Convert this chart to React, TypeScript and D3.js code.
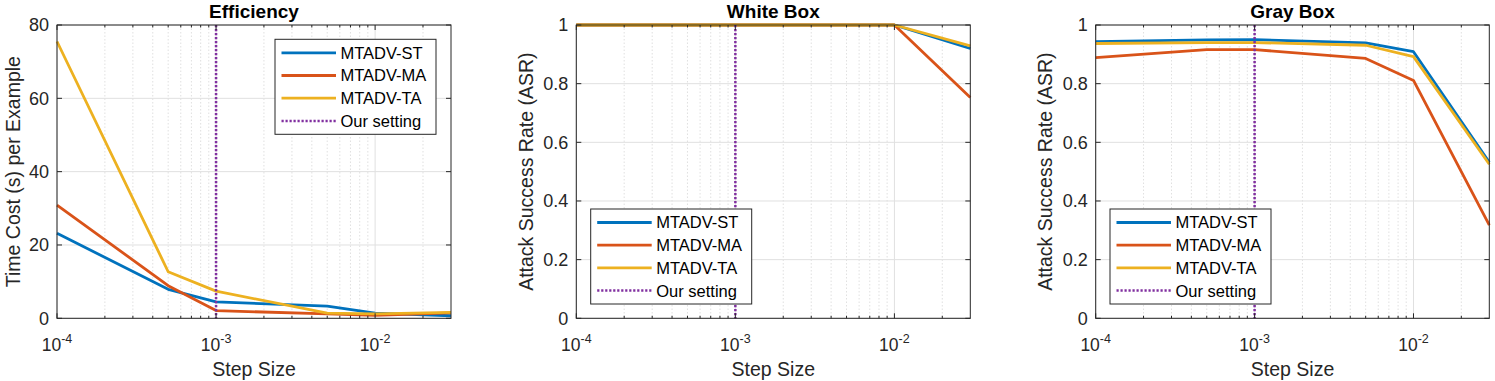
import React from "react";
import * as d3 from "d3";

// step sizes on x (log scale)
const stepSizes = [1e-4, 5e-4, 1e-3, 5e-3, 1e-2, 3e-2];
const ourSetting = 1e-3;
const seriesNames = ["MTADV-ST", "MTADV-MA", "MTADV-TA"];
const seriesColors = ["#0072BD", "#D95319", "#EDB120"];

// Efficiency: time cost (s) per example
const effST = [23.2, 7.9, 4.5, 3.3, 1.4, 0.7];
const effMA = [30.9, 8.9, 2.1, 1.2, 0.8, 1.5];
const effTA = [75.5, 12.7, 7.4, 1.4, 1.2, 1.6];

// White box ASR
const whiteST = [1, 1, 1, 1, 1, 0.92];
const whiteMA = [1, 1, 1, 1, 1, 0.753];
const whiteTA = [1, 1, 1, 1, 1, 0.929];

// Gray box ASR
const grayST = [0.943, 0.949, 0.95, 0.939, 0.909, 0.532];
const grayMA = [0.889, 0.916, 0.916, 0.886, 0.811, 0.318];
const grayTA = [0.937, 0.94, 0.94, 0.931, 0.892, 0.525];

const effTicks = [0, 20, 40, 60, 80];
const asrTicks = [0, 0.2, 0.4, 0.6, 0.8, 1];
const xTicks = [1e-4, 1e-3, 1e-2];

const FONT = "'Liberation Sans', Arial, Helvetica, sans-serif";

type PanelProps = {
  left: number;
  right: number;
  title: string;
  ylabel: string;
  ylabelX: number;
  yMax: number;
  yTicks: number[];
  series: number[][];
  legendX: number;
  legendY: number;
};

const top = 25;
const bottom = 318.3;
const purple = "#8130A0";

function Panel(p: PanelProps) {
  const x = d3.scaleLog().domain([1e-4, 3e-2]).range([p.left, p.right]);
  const y = d3.scaleLinear().domain([0, p.yMax]).range([bottom, top]);
  const line = d3
    .line<number>()
    .x((_, i) => x(stepSizes[i]))
    .y((d) => y(d));

  const minor: number[] = [];
  for (const dec of [1e-4, 1e-3, 1e-2]) {
    for (let k = 2; k <= 9; k++) {
      const v = k * dec;
      if (v < 3e-2) minor.push(v);
    }
  }
  const axisColor = "#262626";

  return (
    <g>
      {/* minor grid */}
      {minor.map((v) => (
        <line key={"mg" + v} x1={x(v)} x2={x(v)} y1={top} y2={bottom} stroke="#d8d8d8" strokeWidth={0.8} strokeDasharray="1.5,2" />
      ))}
      {/* major grid */}
      {xTicks.map((v) => (
        <line key={"xg" + v} x1={x(v)} x2={x(v)} y1={top} y2={bottom} stroke="#e0e0e0" strokeWidth={1} />
      ))}
      {p.yTicks.map((v) => (
        <line key={"yg" + v} x1={p.left} x2={p.right} y1={y(v)} y2={y(v)} stroke="#e0e0e0" strokeWidth={1} />
      ))}
      {/* series */}
      {p.series.map((s, i) => (
        <path key={"s" + i} d={line(s) || ""} fill="none" stroke={seriesColors[i]} strokeWidth={2.8} strokeLinejoin="round" />
      ))}
      {/* our setting */}
      <line x1={x(ourSetting)} x2={x(ourSetting)} y1={top} y2={bottom} stroke={purple} strokeWidth={2.5} strokeDasharray="2.2,1.8" />
      {/* axes box */}
      <rect x={p.left} y={top} width={p.right - p.left} height={bottom - top} fill="none" stroke={axisColor} strokeWidth={1} />
      {/* ticks */}
      {xTicks.map((v) => (
        <g key={"xt" + v}>
          <line x1={x(v)} x2={x(v)} y1={bottom} y2={bottom - 5} stroke={axisColor} />
          <line x1={x(v)} x2={x(v)} y1={top} y2={top + 5} stroke={axisColor} />
        </g>
      ))}
      {minor.map((v) => (
        <g key={"mt" + v}>
          <line x1={x(v)} x2={x(v)} y1={bottom} y2={bottom - 2.5} stroke={axisColor} />
          <line x1={x(v)} x2={x(v)} y1={top} y2={top + 2.5} stroke={axisColor} />
        </g>
      ))}
      {p.yTicks.map((v) => (
        <g key={"yt" + v}>
          <line x1={p.left} x2={p.left + 5} y1={y(v)} y2={y(v)} stroke={axisColor} />
          <line x1={p.right} x2={p.right - 5} y1={y(v)} y2={y(v)} stroke={axisColor} />
          <text x={p.left - 8} y={y(v)} dy="0.36em" textAnchor="end" fontSize={18} fill={axisColor}>
            {d3.format("~g")(v)}
          </text>
        </g>
      ))}
      {/* x tick labels */}
      {xTicks.map((v) => (
        <text key={"xl" + v} x={x(v)} y={351} textAnchor="middle" fontSize={17.5} fill={axisColor}>
          10
          <tspan dy={-8} fontSize={12.5}>
            {String(Math.round(Math.log10(v)))}
          </tspan>
        </text>
      ))}
      {/* labels */}
      <text x={(p.left + p.right) / 2} y={376} textAnchor="middle" fontSize={19.5} fill={axisColor}>
        Step Size
      </text>
      <text
        transform={`translate(${p.ylabelX},${(top + bottom) / 2}) rotate(-90)`}
        textAnchor="middle"
        fontSize={19.5}
        fill={axisColor}
      >
        {p.ylabel}
      </text>
      <text x={(p.left + p.right) / 2} y={17.5} textAnchor="middle" fontSize={19} fontWeight="bold" fill="#000">
        {p.title}
      </text>
      {/* legend */}
      <g transform={`translate(${p.legendX},${p.legendY})`}>
        <rect x={0} y={0} width={161} height={95} fill="#fff" stroke={axisColor} strokeWidth={1} />
        {seriesNames.map((n, i) => (
          <g key={"lg" + n} transform={`translate(0,${13.5 + i * 22.7})`}>
            <line x1={6.5} x2={61} y1={0} y2={0} stroke={seriesColors[i]} strokeWidth={2.8} />
            <text x={65.5} y={0} dy="0.36em" fontSize={16.5} fill="#000">
              {n}
            </text>
          </g>
        ))}
        <g transform={`translate(0,${13.5 + 3 * 22.7})`}>
          <line x1={6.5} x2={61} y1={0} y2={0} stroke={purple} strokeWidth={2.5} strokeDasharray="2.2,1.8" />
          <text x={65.5} y={0} dy="0.36em" fontSize={16.5} fill="#000">
            Our setting
          </text>
        </g>
      </g>
    </g>
  );
}

export default function App() {
  return (
    <svg width={1495} height={381} style={{ position: "absolute", left: 0, top: 0, background: "#fff" }} fontFamily={FONT}>
      <rect width={1495} height={381} fill="#fff" />
      <Panel
        left={57}
        right={451}
        title="Efficiency"
        ylabel="Time Cost (s) per Example"
        ylabelX={19.5}
        yMax={80}
        yTicks={effTicks}
        series={[effST, effMA, effTA]}
        legendX={275}
        legendY={39.3}
      />
      <Panel
        left={576.3}
        right={970.3}
        title="White Box"
        ylabel="Attack Success Rate (ASR)"
        ylabelX={532.5}
        yMax={1}
        yTicks={asrTicks}
        series={[whiteST, whiteMA, whiteTA]}
        legendX={590.7}
        legendY={209}
      />
      <Panel
        left={1095.7}
        right={1489.3}
        title="Gray Box"
        ylabel="Attack Success Rate (ASR)"
        ylabelX={1052}
        yMax={1}
        yTicks={asrTicks}
        series={[grayST, grayMA, grayTA]}
        legendX={1110}
        legendY={209}
      />
    </svg>
  );
}
